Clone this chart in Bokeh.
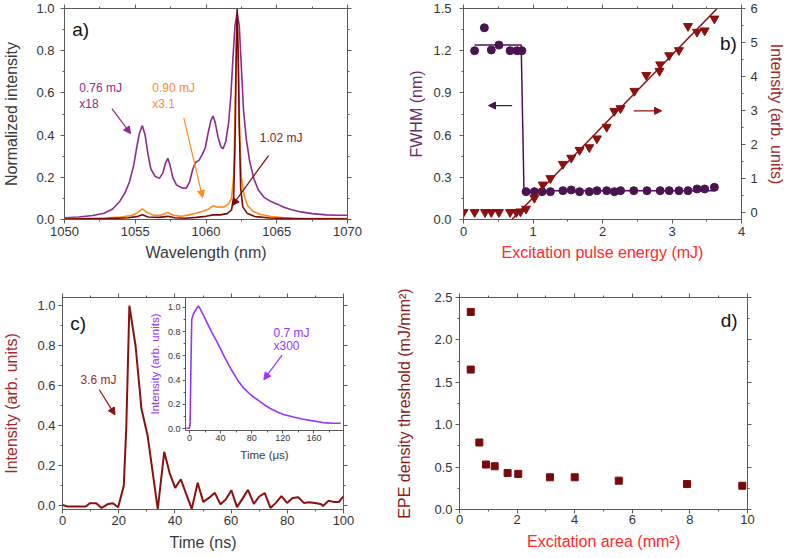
import math
from bokeh.plotting import figure
from bokeh.models import (LinearAxis, Range1d, FixedTicker, NumeralTickFormatter,
                          Label, Arrow, NormalHead, CustomLabelingPolicy)
from bokeh.layouts import column, row
from bokeh.embed import file_html
from bokeh.resources import INLINE

# ---------------- Panel a: spectra ----------------
wl_076 = [1050.0, 1051.0, 1052.0, 1052.8, 1053.4, 1053.9, 1054.3, 1054.6, 1054.9, 1055.1,
          1055.3, 1055.5, 1055.7, 1055.9, 1056.1, 1056.4, 1056.7, 1056.95, 1057.15, 1057.3,
          1057.45, 1057.65, 1057.9, 1058.3, 1058.6, 1058.85, 1059.05, 1059.25, 1059.5, 1059.75,
          1059.95, 1060.15, 1060.35, 1060.5, 1060.65, 1060.85, 1061.05, 1061.2, 1061.4, 1061.6,
          1061.75, 1061.9, 1062.05, 1062.2, 1062.35, 1062.5, 1062.65, 1062.85, 1063.1, 1063.4,
          1063.7, 1064.1, 1064.6, 1065.0, 1065.5, 1066.0, 1066.7, 1067.5, 1068.5, 1069.3, 1070.0]
int_076 = [0.008, 0.012, 0.019, 0.03, 0.05, 0.085, 0.13, 0.18, 0.26, 0.34,
           0.41, 0.445, 0.40, 0.31, 0.24, 0.205, 0.195, 0.22, 0.27, 0.29,
           0.26, 0.20, 0.165, 0.15, 0.148, 0.18, 0.235, 0.27, 0.28, 0.31,
           0.34, 0.41, 0.47, 0.49, 0.46, 0.39, 0.345, 0.335, 0.37, 0.46,
           0.58, 0.76, 0.92, 0.98, 0.92, 0.72, 0.52, 0.38, 0.27, 0.19,
           0.14, 0.105, 0.085, 0.074, 0.058, 0.047, 0.036, 0.028, 0.022, 0.02, 0.02]

wl_090 = [1050.0, 1051.5, 1053.0, 1054.0, 1054.8, 1055.2, 1055.5, 1055.8, 1056.3, 1056.8,
          1057.3, 1057.7, 1058.3, 1058.8, 1059.3, 1059.8, 1060.2, 1060.5, 1060.8, 1061.3,
          1061.6, 1061.8, 1061.95, 1062.05, 1062.15, 1062.2, 1062.28, 1062.38, 1062.5, 1062.7,
          1062.95, 1063.3, 1063.8, 1064.5, 1065.5, 1067.0, 1070.0]
int_090 = [0.004, 0.005, 0.008, 0.012, 0.02, 0.035, 0.05, 0.035, 0.02, 0.02,
           0.033, 0.02, 0.015, 0.022, 0.03, 0.04, 0.05, 0.065, 0.058, 0.06,
           0.075, 0.10, 0.20, 0.50, 0.85, 0.95, 0.75, 0.40, 0.20, 0.11,
           0.065, 0.04, 0.025, 0.015, 0.008, 0.005, 0.004]

wl_102 = [1050.0, 1053.0, 1054.5, 1055.2, 1055.5, 1055.9, 1056.7, 1057.3, 1057.8, 1058.5,
          1059.3, 1060.0, 1060.5, 1061.0, 1061.5, 1061.8, 1061.95, 1062.05, 1062.13, 1062.2,
          1062.27, 1062.35, 1062.45, 1062.6, 1062.9, 1063.4, 1064.5, 1066.0, 1070.0]
int_102 = [0.002, 0.004, 0.008, 0.015, 0.022, 0.012, 0.01, 0.015, 0.008, 0.006,
           0.01, 0.015, 0.022, 0.022, 0.028, 0.045, 0.10, 0.35, 0.75, 1.0,
           0.80, 0.45, 0.15, 0.06, 0.03, 0.015, 0.007, 0.004, 0.002]

# ---------------- Panel b ----------------
fwhm_e = [0.16, 0.30, 0.40, 0.51, 0.67, 0.77, 0.84, 0.90, 1.02, 1.13, 1.25, 1.43, 1.55, 1.67,
          1.81, 1.92, 2.06, 2.17, 2.26, 2.45, 2.64, 2.83, 2.96, 3.10, 3.23, 3.36, 3.47, 3.61]
fwhm = [1.20, 1.363, 1.205, 1.24, 1.20, 1.20, 1.20, 0.198, 0.198, 0.198, 0.198, 0.205, 0.21, 0.198,
        0.198, 0.205, 0.205, 0.198, 0.205, 0.205, 0.205, 0.205, 0.205, 0.205, 0.205, 0.217, 0.217, 0.229]
fwhm_fit_e = [0.16, 0.83, 0.87, 3.61]
fwhm_fit = [1.24, 1.24, 0.205, 0.205]

int_e = [0.0, 0.16, 0.31, 0.40, 0.51, 0.67, 0.76, 0.82, 0.90, 1.02, 1.14, 1.25, 1.43, 1.55, 1.67,
         1.81, 1.92, 2.06, 2.17, 2.26, 2.46, 2.63, 2.82, 2.83, 2.96, 3.10, 3.23, 3.36, 3.47, 3.61]
int_b = [0.0, 0.0, 0.0, 0.0, 0.0, 0.0, 0.0, 0.02, 0.1, 0.42, 0.81, 1.0, 1.42, 1.6, 1.83,
         1.91, 2.17, 2.51, 2.98, 3.06, 3.57, 4.04, 4.16, 4.35, 4.62, 4.77, 5.48, 5.31, 5.35, 5.70]
int_fit_e = [0.70, 3.65]
int_fit = [-0.21, 6.0]

# ---------------- Panel c ----------------
t_ns = [0, 1.8, 8.3, 9.7, 12.0, 13.9, 16.3, 17.9, 19.8, 21.8, 22.7, 23.8, 26.0, 28.1, 30.3,
        33.9, 36.2, 38.1, 40.1, 42.1, 44.0, 46.0, 48.1, 50.1, 52.1, 54.2, 56.2, 58.1, 60.1,
        62.1, 64.0, 66.0, 68.1, 70.0, 72.0, 74.0, 75.9, 77.9, 79.9, 81.9, 83.9, 85.9, 87.8,
        89.8, 91.8, 92.7, 94.7, 96.5, 98.4, 100.0]
i_ns = [0.005, -0.003, -0.003, 0.013, 0.013, -0.01, 0.01, 0.013, -0.007, 0.1, 0.39, 1.0, 0.8,
        0.485, 0.35, -0.016, 0.27, 0.165, 0.09, 0.133, 0.06, -0.015, 0.116, 0.02, 0.04, 0.065,
        0.008, 0.032, 0.078, -0.006, 0.035, 0.08, 0.01, 0.047, 0.064, -0.01, 0.015, 0.049,
        0.015, 0.04, 0.043, 0.015, 0.018, 0.015, 0.01, 0.0, 0.026, 0.02, 0.02, 0.049]

t_us = [-4.0, 0.0, 0.8, 1.7, 2.9, 5.1, 9.3, 11.4, 13.5, 19.8, 28.2, 36.6, 45.1, 53.5, 61.9,
        70.3, 78.7, 87.2, 95.6, 104.0, 112.4, 120.8, 133.5, 146.1, 158.7, 171.4, 184.0, 194.5]
i_us = [0.005, 0.005, 0.04, 0.44, 0.90, 0.946, 0.99, 1.01, 0.99, 0.91, 0.80, 0.70, 0.59, 0.49,
        0.40, 0.33, 0.28, 0.24, 0.20, 0.167, 0.14, 0.118, 0.097, 0.078, 0.065, 0.051, 0.046, 0.046]

# ---------------- Panel d ----------------
area = [0.39, 0.39, 0.69, 0.92, 1.22, 1.67, 2.04, 3.14, 4.0, 5.53, 7.9, 9.82]
thr = [2.33, 1.65, 0.79, 0.53, 0.51, 0.43, 0.42, 0.38, 0.38, 0.34, 0.30, 0.28]

# ---------------- Ticks ----------------
a_xt, a_xm = [1050, 1055, 1060, 1065, 1070], [1052.5, 1057.5, 1062.5, 1067.5]
u_yt, u_ym = [0, 0.2, 0.4, 0.6, 0.8, 1.0], [0.1, 0.3, 0.5, 0.7, 0.9]
b_xt, b_xm = [0, 1, 2, 3, 4], [0.5, 1.5, 2.5, 3.5]
b_yt, b_ym = [0, 0.3, 0.6, 0.9, 1.2, 1.5], [0.15, 0.45, 0.75, 1.05, 1.35]
b_rt, b_rm = [0, 1, 2, 3, 4, 5, 6], [0.5, 1.5, 2.5, 3.5, 4.5, 5.5]
c_xt, c_xm = [0, 20, 40, 60, 80, 100], [10, 30, 50, 70, 90]
i_xt, i_xm = [0, 40, 80, 120, 160], [20, 60, 100, 140, 180]
d_xt, d_xm = [0, 2, 4, 6, 8, 10], [1, 3, 5, 7, 9]
d_yt, d_ym = [0, 0.5, 1.0, 1.5, 2.0, 2.5], [0.25, 0.75, 1.25, 1.75, 2.25]

FONT = "Liberation Sans"
FRAME = "#5a5a5a"
TICKC = "#333333"
PURPLE_A = "#8C2A8E"
ORANGE = "#FF8C1A"
DARKRED = "#7A0A0A"
B_PURPLE = "#4A1450"
B_PURPLE_T = "#6A2A6C"
B_RED = "#8B1010"
RED_T = "#FF2A2A"
DR_T = "#A0282A"
VIOLET = "#9933FF"


def base_fig(w, h, xr, yr, bl, br, bt, bb):
    p = figure(width=w, height=h, x_range=Range1d(*xr), y_range=Range1d(*yr),
               output_backend="svg", toolbar_location=None,
               min_border_left=bl, min_border_right=br,
               min_border_top=bt, min_border_bottom=bb)
    p.grid.visible = False
    p.outline_line_color = FRAME
    p.background_fill_color = "white"
    p.border_fill_color = "white"
    return p


def style_axis(ax, ticks, minor, fmt="0", labels=True, size="13px", standoff=3,
               title=None, tcolor=TICKC, tstand=5, tsize="16px"):
    ax.ticker = FixedTicker(ticks=ticks, minor_ticks=minor)
    ax.formatter = NumeralTickFormatter(format=fmt)
    ax.axis_line_color = FRAME
    ax.major_tick_line_color = FRAME
    ax.minor_tick_line_color = FRAME
    ax.major_tick_in = 0
    ax.major_tick_out = 4
    ax.minor_tick_in = 0
    ax.minor_tick_out = 2
    ax.major_label_text_font = FONT
    ax.major_label_text_color = TICKC
    ax.major_label_text_font_size = size if labels else "1px"
    ax.major_label_standoff = standoff if labels else 0
    if not labels:
        ax.major_label_policy = CustomLabelingPolicy(code="return new Set()")
    ax.axis_label_text_font = FONT
    ax.axis_label_text_font_style = "normal"
    ax.axis_label_text_font_size = tsize
    ax.axis_label_text_color = tcolor
    ax.axis_label_standoff = tstand
    if title is not None:
        ax.axis_label = title


def mirror(p, side, ticks, minor, **kw):
    ax = LinearAxis(**kw)
    style_axis(ax, ticks, minor, labels=False)
    p.add_layout(ax, side)


def lab(p, x, y, text, color, size="12px", **kw):
    p.add_layout(Label(x=x, y=y, text=text, text_color=color, text_font=FONT,
                       text_font_size=size, text_baseline="middle", **kw))


def arr(p, x0, y0, x1, y1, color, **kw):
    p.add_layout(Arrow(end=NormalHead(size=7, fill_color=color, line_color=color),
                       x_start=x0, y_start=y0, x_end=x1, y_end=y1,
                       line_color=color, line_width=1.2, **kw))


# ================= Panel a =================
pa = base_fig(390, 270, (1050, 1070), (0, 1.0), 60, 43, 7, 51)
style_axis(pa.xaxis[0], a_xt, a_xm, "0", standoff=3, title="Wavelength (nm)",
           tcolor="#3a3a3a", tstand=5)
style_axis(pa.yaxis[0], u_yt, u_ym, "0.0", standoff=6, title="Normalized intensity",
           tcolor="#3a3a3a", tstand=13)
mirror(pa, "above", a_xt, a_xm)
mirror(pa, "right", u_yt, u_ym)
pa.line(wl_076, int_076, line_color=PURPLE_A, line_width=1.6)
pa.line(wl_090, int_090, line_color=ORANGE, line_width=1.6)
pa.line(wl_102, int_102, line_color=DARKRED, line_width=1.6)
lab(pa, 1051.05, 0.624, "0.76 mJ", PURPLE_A)
lab(pa, 1051.05, 0.548, "x18", PURPLE_A)
lab(pa, 1056.2, 0.624, "0.90 mJ", ORANGE)
lab(pa, 1056.2, 0.548, "x3.1", ORANGE)
lab(pa, 1063.8, 0.388, "1.02 mJ", "#8B1A1A")
lab(pa, 1050.55, 0.90, "a)", "#111111", size="19px")
arr(pa, 1053.35, 0.525, 1054.67, 0.407, PURPLE_A)
arr(pa, 1058.43, 0.482, 1059.76, 0.104, ORANGE)
arr(pa, 1064.42, 0.303, 1061.85, 0.066, DARKRED)

# ================= Panel b =================
pb = base_fig(397, 270, (0, 4), (0, 1.5), 73, 43, 7, 51)
pb.extra_y_ranges = {"int": Range1d(-0.215, 6.0)}
style_axis(pb.xaxis[0], b_xt, b_xm, "0", standoff=3, title="Excitation pulse energy (mJ)",
           tcolor=RED_T, tstand=5)
style_axis(pb.yaxis[0], b_yt, b_ym, "0.0", standoff=8, title="FWHM (nm)",
           tcolor=B_PURPLE_T, tstand=5)
mirror(pb, "above", b_xt, b_xm)
rax = LinearAxis(y_range_name="int")
style_axis(rax, b_rt, b_rm, "0", standoff=5, title="Intensity (arb. units)",
           tcolor=DR_T, tstand=7)
pb.add_layout(rax, "right")
pb.line(fwhm_fit_e, fwhm_fit, line_color=B_PURPLE, line_width=1.5)
pb.scatter(fwhm_e, fwhm, marker="circle", size=8, fill_color=B_PURPLE, line_color=B_PURPLE)
pb.line(int_fit_e, int_fit, line_color=B_RED, line_width=1.5, y_range_name="int")
pb.scatter(int_e, int_b, marker="inverted_triangle", size=9, fill_color=B_RED,
           line_color=B_RED, y_range_name="int")
lab(pb, 3.69, 1.254, "b)", "#111111", size="19px")
arr(pb, 0.70, 0.81, 0.36, 0.81, B_PURPLE)
arr(pb, 2.45, 2.985, 2.85, 2.985, B_RED, y_range_name="int")

# ================= Panel c =================
pc = base_fig(390, 288, (0, 100), (-0.018, 1.041), 60, 47, 24, 49)
style_axis(pc.xaxis[0], c_xt, c_xm, "0", standoff=2, title="Time (ns)",
           tcolor="#3a3a3a", tstand=6)
style_axis(pc.yaxis[0], u_yt, u_ym, "0.0", standoff=3, title="Intensity (arb. units)",
           tcolor=DR_T, tstand=14)
mirror(pc, "above", c_xt, c_xm)
mirror(pc, "right", u_yt, u_ym)
pc.line(t_ns, i_ns, line_color=B_RED, line_width=2)
lab(pc, 2.8, 0.91, "c)", "#111111", size="19px")
lab(pc, 6.4, 0.627, "3.6 mJ", "#A0282A")
arr(pc, 13.1, 0.58, 18.7, 0.455, B_RED)

# inset placed in the upper-right part of the frame (fractions of the frame)
ins_x = (-5.0, 198.0)
ins_y = (-0.01, 1.08)
fx0, fy0 = 0.438, 0.375
sx = (ins_x[1] - ins_x[0]) / (1 - fx0)
sy = (ins_y[1] - ins_y[0]) / (1 - fy0)
pc.extra_x_ranges = {"ix": Range1d(ins_x[1] - sx, ins_x[1])}
pc.extra_y_ranges = {"iy": Range1d(ins_y[1] - sy, ins_y[1])}
iax = LinearAxis(x_range_name="ix", y_range_name="iy", fixed_location=ins_y[0], bounds=ins_x)
style_axis(iax, i_xt, i_xm, "0", size="9px", standoff=2, title="Time (\u03bcs)",
           tcolor="#3a3a3a", tstand=4, tsize="11.5px")
iax.major_tick_out = 3
pc.add_layout(iax, "below")
iay = LinearAxis(x_range_name="ix", y_range_name="iy", fixed_location=ins_x[0], bounds=ins_y)
style_axis(iay, u_yt, u_ym, "0.0", size="9px", standoff=2, title="Intensity (arb. units)",
           tcolor=VIOLET, tstand=4, tsize="11.5px")
iay.major_tick_out = 3
pc.add_layout(iay, "left")
pc.line(t_us, i_us, line_color=VIOLET, line_width=1.6, x_range_name="ix", y_range_name="iy")
lab(pc, 108, 0.79, "0.7 mJ", VIOLET, x_range_name="ix", y_range_name="iy")
lab(pc, 108, 0.678, "x300", VIOLET, x_range_name="ix", y_range_name="iy")
arr(pc, 119, 0.606, 95.6, 0.404, VIOLET, x_range_name="ix", y_range_name="iy")

# ================= Panel d =================
pd_ = base_fig(397, 288, (0, 10), (0, 2.5), 69, 40, 27, 49)
style_axis(pd_.xaxis[0], d_xt, d_xm, "0", standoff=1, title="Excitation area (mm\u00b2)",
           tcolor=RED_T, tstand=6)
style_axis(pd_.yaxis[0], d_yt, d_ym, "0.0", standoff=3, title="EPE density threshold (mJ/mm\u00b2)",
           tcolor="#8B1A1A", tstand=18)
mirror(pd_, "above", d_xt, d_xm)
mirror(pd_, "right", d_yt, d_ym)
pd_.scatter(area, thr, marker="square", size=7, fill_color="#7A0A0A", line_color="#7A0A0A")
lab(pd_, 9.07, 2.226, "d)", "#111111", size="19px")

layout = column(row(pa, pb), row(pc, pd_))

open("out.html", "w").write(file_html(layout, INLINE))
